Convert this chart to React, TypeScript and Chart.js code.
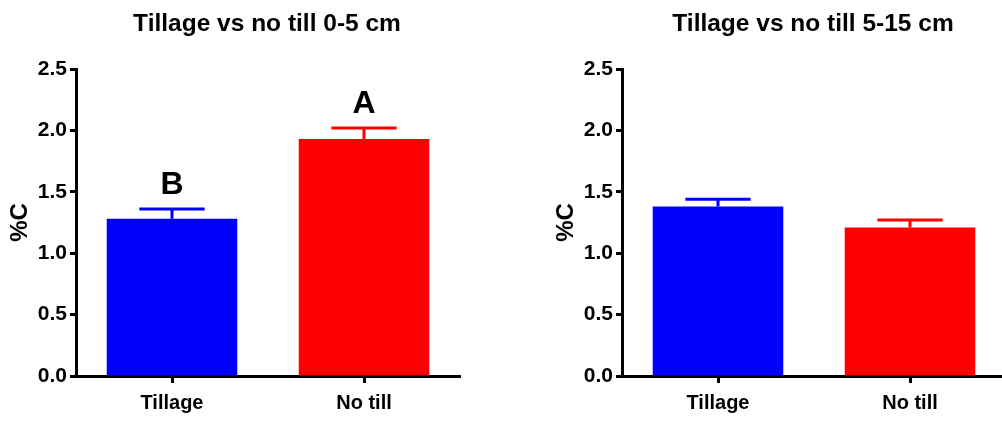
import React, { useEffect, useRef } from "react";
import { Chart, registerables } from "chart.js";

Chart.register(...registerables);

// Soil carbon (%C) under conventional tillage vs no till, two depths
const categories = ["Tillage", "No till"];
const barColors = ["#0000FF", "#FF0000"];

const shallowTitle = "Tillage vs no till 0-5 cm";
const shallowMeans = [1.28, 1.93];
const shallowErrors = [0.08, 0.09];
const shallowLetters = ["B", "A"];

const deepTitle = "Tillage vs no till 5-15 cm";
const deepMeans = [1.38, 1.21];
const deepErrors = [0.06, 0.06];
const deepLetters: string[] = [];

const yTicks = [0, 0.5, 1.0, 1.5, 2.0, 2.5];
const yLabel = "%C";

const FONT = '"Liberation Sans", Arial, Helvetica, sans-serif';

const CANVAS_W = 470;
const CANVAS_H = 421;

// Draws the upward error bar over each bar, the significance letter above it,
// and the panel title.
const annotatePlugin = {
  id: "annotate",
  afterDatasetsDraw(chart: any, _args: any, opts: any) {
    const { ctx, scales } = chart;
    const meta = chart.getDatasetMeta(0);
    const ds = chart.data.datasets[0];
    const errors: number[] = opts.errors || [];
    const letters: string[] = opts.letters || [];
    ctx.save();
    meta.data.forEach((bar: any, i: number) => {
      const v = ds.data[i] as number;
      const top = scales.y.getPixelForValue(v);
      const yErr = scales.y.getPixelForValue(v + errors[i]);
      const color = (ds.backgroundColor as string[])[i];
      const half = bar.width / 4;
      ctx.strokeStyle = color;
      ctx.lineWidth = 3;
      ctx.lineCap = "butt";
      ctx.beginPath();
      ctx.moveTo(bar.x, top);
      ctx.lineTo(bar.x, yErr);
      ctx.moveTo(bar.x - half, yErr);
      ctx.lineTo(bar.x + half, yErr);
      ctx.stroke();
      if (letters[i]) {
        ctx.fillStyle = "#000";
        ctx.font = `bold 32px ${FONT}`;
        ctx.textAlign = "center";
        ctx.textBaseline = "alphabetic";
        ctx.fillText(letters[i], bar.x, yErr - 15);
      }
    });
    if (opts.title) {
      const area = chart.chartArea;
      ctx.fillStyle = "#000";
      ctx.font = `bold 24.5px ${FONT}`;
      ctx.textAlign = "center";
      ctx.textBaseline = "alphabetic";
      ctx.fillText(opts.title, (area.left + area.right) / 2 - 1, 31);
    }
    ctx.restore();
  },
};

function BarPanel(props: {
  title: string;
  means: number[];
  errors: number[];
  letters: string[];
  left: number;
}) {
  const ref = useRef<HTMLCanvasElement | null>(null);

  useEffect(() => {
    if (!ref.current) return;
    const chart = new Chart(ref.current, {
      type: "bar",
      data: {
        labels: categories,
        datasets: [
          {
            data: props.means,
            backgroundColor: barColors,
            borderWidth: 0,
            barPercentage: 0.68,
            categoryPercentage: 1,
          },
        ],
      },
      plugins: [annotatePlugin],
      options: {
        responsive: false,
        animation: false,
        devicePixelRatio: 1,
        layout: { padding: { top: 69, left: 0, right: CANVAS_W - 460, bottom: 0 } },
        plugins: {
          legend: { display: false },
          tooltip: { enabled: false },
          title: { display: false },
          annotate: { errors: props.errors, letters: props.letters, title: props.title },
        } as any,
        scales: {
          x: {
            offset: true,
            grid: {
              display: true,
              drawOnChartArea: false,
              drawTicks: true,
              offset: false,
              tickLength: 7,
              tickWidth: 3,
              tickColor: "#000",
            },
            border: { display: true, color: "#000", width: 3 },
            ticks: {
              color: "#000",
              padding: 8,
              font: { family: FONT, size: 20, weight: "bold" },
            },
            afterFit(scale: any) {
              scale.height = CANVAS_H - 376;
            },
          },
          y: {
            min: 0,
            max: 2.5,
            afterBuildTicks(scale: any) {
              scale.ticks = yTicks.map((v) => ({ value: v }));
            },
            grid: {
              display: true,
              drawOnChartArea: false,
              drawTicks: true,
              tickLength: 6,
              tickWidth: 3,
              tickColor: "#000",
            },
            border: { display: true, color: "#000", width: 3 },
            ticks: {
              color: "#000",
              padding: 3,
              font: { family: FONT, size: 21, weight: "bold" },
              callback: (v: any) => Number(v).toFixed(1),
            },
            title: {
              display: true,
              text: yLabel,
              color: "#000",
              padding: { top: 6, bottom: 0 },
              font: { family: FONT, size: 24, weight: "bold" },
            },
            afterFit(scale: any) {
              scale.width = 76;
            },
          },
        },
      } as any,
    });
    return () => chart.destroy();
  }, []);

  return (
    <canvas
      ref={ref}
      width={CANVAS_W}
      height={CANVAS_H}
      style={{
        position: "absolute",
        left: props.left,
        top: 0,
        width: CANVAS_W,
        height: CANVAS_H,
      }}
    />
  );
}

export default function App() {
  return (
    <div
      style={{
        position: "absolute",
        left: 0,
        top: 0,
        width: 1002,
        height: 421,
        overflow: "hidden",
        background: "#fff",
      }}
    >
      <BarPanel
        title={shallowTitle}
        means={shallowMeans}
        errors={shallowErrors}
        letters={shallowLetters}
        left={0}
      />
      <BarPanel
        title={deepTitle}
        means={deepMeans}
        errors={deepErrors}
        letters={deepLetters}
        left={546}
      />
    </div>
  );
}
